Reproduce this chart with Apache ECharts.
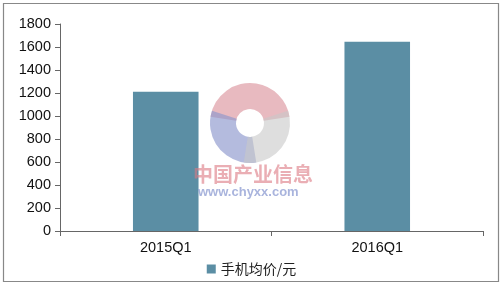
<!DOCTYPE html>
<html><head><meta charset="utf-8">
<script src="https://cdn.jsdelivr.net/npm/echarts@6/dist/echarts.min.js"></script>
<style>html,body{margin:0;padding:0;background:#fff}#c{width:503px;height:289px}</style>
</head><body><div id="c"></div>
<script>
const categories = ['2015Q1', '2016Q1'];
const seriesName = '手机均价/元';
const priceValues = [1210, 1645];
const yTicks = { min: 0, max: 1800, interval: 200 };

const chart = echarts.init(document.getElementById('c'), null, {renderer: 'canvas'});
const font = 'Liberation Sans, Arial, sans-serif';
chart.setOption({
  animation: false,
  backgroundColor: '#fff',
  grid: { left: 60, right: 20, top: 24, bottom: 58, containLabel: false },
  legend: {
    bottom: 8, left: 'center',
    data: [seriesName],
    icon: 'rect', itemWidth: 9, itemHeight: 9, itemGap: 4,
    textStyle: { fontFamily: 'Noto Sans CJK SC, sans-serif', fontSize: 14, color: '#222' }
  },
  xAxis: {
    type: 'category', data: categories,
    axisLine: { lineStyle: { color: '#666', width: 1 } },
    axisTick: { show: true, length: 5, lineStyle: { color: '#666' } },
    axisLabel: { fontFamily: font, fontSize: 14.5, color: '#111', margin: 9 }
  },
  yAxis: {
    type: 'value', min: yTicks.min, max: yTicks.max, interval: yTicks.interval,
    splitLine: { show: false },
    axisLine: { show: true, lineStyle: { color: '#666', width: 1 } },
    axisTick: { show: true, length: 5, lineStyle: { color: '#666' } },
    axisLabel: { fontFamily: font, fontSize: 14.5, color: '#111', margin: 9, formatter: v => String(v) }
  },
  series: [{
    name: seriesName, type: 'bar', data: priceValues,
    barWidth: '31%',
    itemStyle: { color: '#5b8ea4' }
  }],
  graphic: [
    { type: 'rect', shape: { x: 3.5, y: 3.5, width: 495, height: 278 }, style: { fill: 'none', stroke: '#888', lineWidth: 1.2 }, z: 100 },
    { type: 'sector', shape: { cx: 250, cy: 123, r: 40, r0: 14, startAngle: -Math.PI*0.95, endAngle: -Math.PI*0.05 }, style: { fill: 'rgba(214,130,140,0.55)' }, z: 50 },
    { type: 'sector', shape: { cx: 250, cy: 123, r: 40, r0: 14, startAngle: Math.PI*0.45, endAngle: Math.PI*1.1 }, style: { fill: 'rgba(140,150,205,0.65)' }, z: 50 },
    { type: 'sector', shape: { cx: 250, cy: 123, r: 40, r0: 14, startAngle: -Math.PI*0.1, endAngle: Math.PI*0.55 }, style: { fill: 'rgba(200,200,200,0.6)' }, z: 50 },
    { type: 'text', left: 193, top: 164, style: { text: '中国产业信息', font: 'bold 20px "Noto Sans CJK SC", sans-serif', fill: 'rgba(220,120,130,0.6)' }, z: 50 },
    { type: 'text', left: 198, top: 186, style: { text: 'www.chyxx.com', font: 'bold 13px "Liberation Sans", sans-serif', fill: 'rgba(140,155,210,0.75)' }, z: 50 }
  ]
});
</script></body></html>
